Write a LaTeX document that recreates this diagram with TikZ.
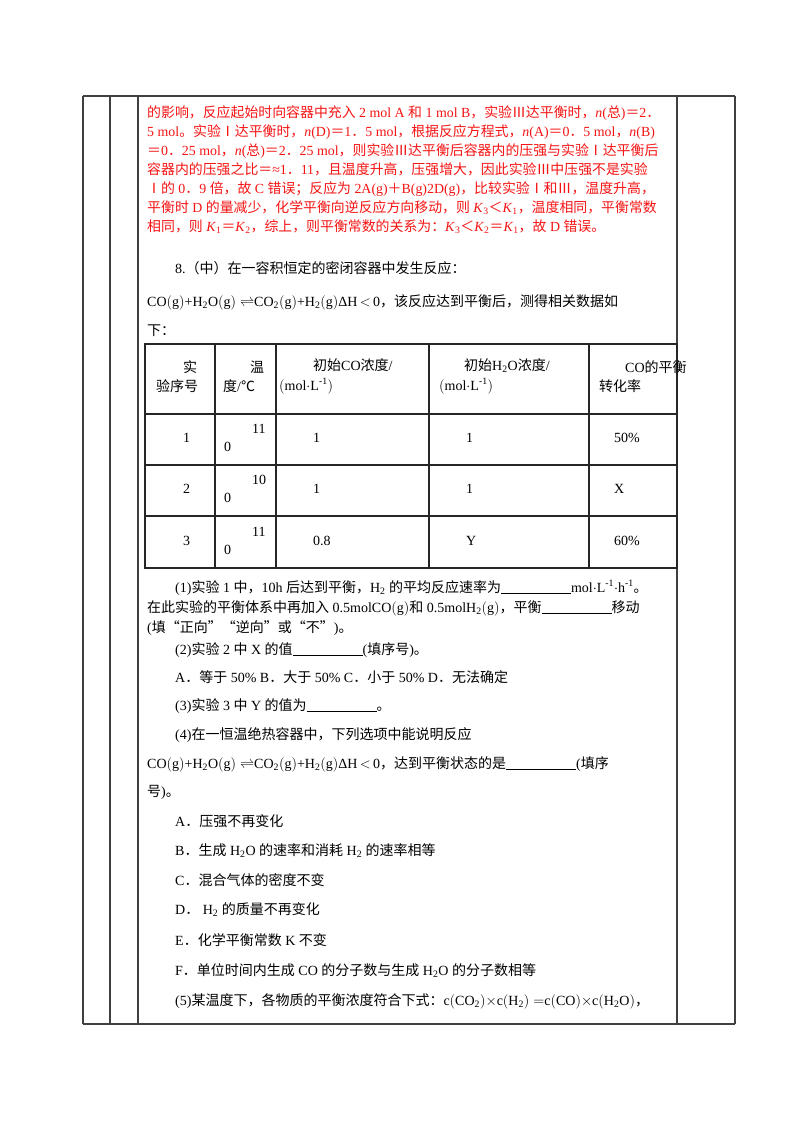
\documentclass[tikz,border=0pt]{standalone}
\usepackage{fontspec}
\setmainfont{Liberation Serif}
\newfontfamily\cjk{Noto Sans CJK SC}
\newXeTeXintercharclass\cjkcls
\newcount\cc
\def\setrange#1#2{\cc=#1\relax\loop\XeTeXcharclass\cc=\cjkcls\relax\ifnum\cc<#2\advance\cc by 1\repeat}
\setrange{"4E00}{"9FFF}
\setrange{"3000}{"303F}
\setrange{"FF00}{"FFEF}
\setrange{"2160}{"216F}
\XeTeXcharclass"2103=\cjkcls
\XeTeXcharclass"201C=\cjkcls
\XeTeXcharclass"201D=\cjkcls
\XeTeXinterchartoks 0 \cjkcls {\begingroup\cjk}
\XeTeXinterchartoks 4095 \cjkcls {\begingroup\cjk}
\XeTeXinterchartoks \cjkcls 0 {\endgroup}
\XeTeXinterchartoks \cjkcls 4095 {\endgroup}
\XeTeXinterchartokenstate=1
\definecolor{redtxt}{RGB}{245,20,20}
\newcommand{\blank}[1]{\underline{\hspace{#1pt}}}
\newcommand{\eqn}{CO$($g$)$+H\textsubscript{2}O$($g$)\rightleftharpoons$CO\textsubscript{2}$($g$)$+H\textsubscript{2}$($g$)$ΔH\,$<$\,0}
\begin{document}
\begin{tikzpicture}[x=1pt,y=-1pt,
  t/.style={anchor=base west,inner sep=0pt,font=\fontsize{14}{17}\selectfont},
  rt/.style={t,text=redtxt,font=\fontsize{13.9}{17}\selectfont},
  frame/.style={draw=black!75,line width=1.1pt},
  grid/.style={draw=black!85,line width=1.2pt}]
\useasboundingbox (0,0) rectangle (800,1132);
% frame
\draw[frame] (83,96) -- (735,96) (83,1024) -- (735,1024);
\foreach \xx in {83,110,138,677,735} \draw[frame] (\xx,96) -- (\xx,1024);
% red text
\node[rt] (r1) at (147,117) {的影响，反应起始时向容器中充入 2 mol A 和 1 mol B，实验Ⅲ达平衡时，\textit{n}(总)＝2．};
\node[rt] (r2) at (147,136) {5 mol。实验Ⅰ达平衡时，\textit{n}(D)＝1．5 mol，根据反应方程式，\textit{n}(A)＝0．5 mol，\textit{n}(B)};
\node[rt] (r3) at (147,155) {＝0．25 mol，\textit{n}(总)＝2．25 mol，则实验Ⅲ达平衡后容器内的压强与实验Ⅰ达平衡后};
\node[rt] (r4) at (147,174) {容器内的压强之比＝≈1．11，且温度升高，压强增大，因此实验Ⅲ中压强不是实验};
\node[rt] (r5) at (147,193) {Ⅰ的 0．9 倍，故 C 错误；反应为 2A(g)＋B(g)2D(g)，比较实验Ⅰ和Ⅲ，温度升高，};
\node[rt] (r6) at (147,212) {平衡时 D 的量减少，化学平衡向逆反应方向移动，则 \textit{K}\textsubscript{3}＜\textit{K}\textsubscript{1}，温度相同，平衡常数};
\node[rt] (r7) at (147,231) {相同，则 \textit{K}\textsubscript{1}＝\textit{K}\textsubscript{2}，综上，则平衡常数的关系为：\textit{K}\textsubscript{3}＜\textit{K}\textsubscript{2}＝\textit{K}\textsubscript{1}，故 D 错误。};
% question
\node[t] (q8) at (175,273) {8.（中）在一容积恒定的密闭容器中发生反应：};
\node[t] (q8b) at (147,306) {\eqn，该反应达到平衡后，测得相关数据如};
\node[t] (q8c) at (147,335) {下：};
% table
\draw[grid] (145,344) rectangle (677,568);
\foreach \yy in {414,465,516} \draw[grid] (145,\yy) -- (677,\yy);
\foreach \xx in {215,276,429,589} \draw[grid] (\xx,344) -- (\xx,568);
\node[t] (h1a) at (183,372) {实};
\node[t] (h1b) at (156,391) {验序号};
\node[t] (h2a) at (250,372) {温};
\node[t] (h2b) at (223,391) {度/℃};
\node[t] (h3a) at (313,370) {初始CO浓度/};
\node[t] (h3b) at (279,390) {$\bigl($mol$\cdot$L\textsuperscript{-1}$\bigr)$};
\node[t] (h4a) at (464,370) {初始H\textsubscript{2}O浓度/};
\node[t] (h4b) at (439,390) {$\bigl($mol$\cdot$L\textsuperscript{-1}$\bigr)$};
\node[t] (h5a) at (625,372) {CO的平衡};
\node[t] (h5b) at (599,391) {转化率};
\foreach \n/\yc/\tt/\co/\hh/\cv in {1/437/11/1/1/50\%,2/488/10/1/1/X,3/540/11/0.8/Y/60\%}{
  \node[t] at (183,\yc+5) {\n};
  \node[t] at (252,\yc-4) {\tt};
  \node[t] at (224,\yc+14) {0};
  \node[t] at (313,\yc+5) {\co};
  \node[t] at (466,\yc+5) {\hh};
  \node[t] at (\ifx\cv X 628\else 614\fi,\yc+5) {\cv};
}
% sub questions
\node[t] (p1) at (175,592) {(1)实验 1 中，10h 后达到平衡，H\textsubscript{2} 的平均反应速率为\blank{70}mol$\cdot$L\textsuperscript{-1}$\cdot$h\textsuperscript{-1}。};
\node[t] (p1b) at (147,612) {在此实验的平衡体系中再加入 0.5molCO$($g$)$和 0.5molH\textsubscript{2}$($g$)$，平衡\blank{70}移动};
\node[t] (p1c) at (147,632) {(填“正向”“逆向”或“不”)。};
\node[t] (p2) at (175,654) {(2)实验 2 中 X 的值\blank{70}(填序号)。};
\node[t] (p2a) at (175,682) {A．等于 50\% B．大于 50\% C．小于 50\% D．无法确定};
\node[t] (p3) at (175,710) {(3)实验 3 中 Y 的值为\blank{70}。};
\node[t] (p4) at (175,739) {(4)在一恒温绝热容器中，下列选项中能说明反应};
\node[t] (p4b) at (147,768) {\eqn，达到平衡状态的是\blank{70}(填序};
\node[t] (p4c) at (147,796) {号)。};
\node[t] (oA) at (175,826) {A．压强不再变化};
\node[t] (oB) at (175,855) {B．生成 H\textsubscript{2}O 的速率和消耗 H\textsubscript{2} 的速率相等};
\node[t] (oC) at (175,885) {C．混合气体的密度不变};
\node[t] (oD) at (175,914) {D． H\textsubscript{2} 的质量不再变化};
\node[t] (oE) at (175,945) {E．化学平衡常数 K 不变};
\node[t] (oF) at (175,975) {F．单位时间内生成 CO 的分子数与生成 H\textsubscript{2}O 的分子数相等};
\node[t] (p5) at (175,1005) {(5)某温度下，各物质的平衡浓度符合下式：c$($CO\textsubscript{2}$)\times$c$($H\textsubscript{2}$)=$c$($CO$)\times$c$($H\textsubscript{2}O$)$，};
\end{tikzpicture}
\end{document}
